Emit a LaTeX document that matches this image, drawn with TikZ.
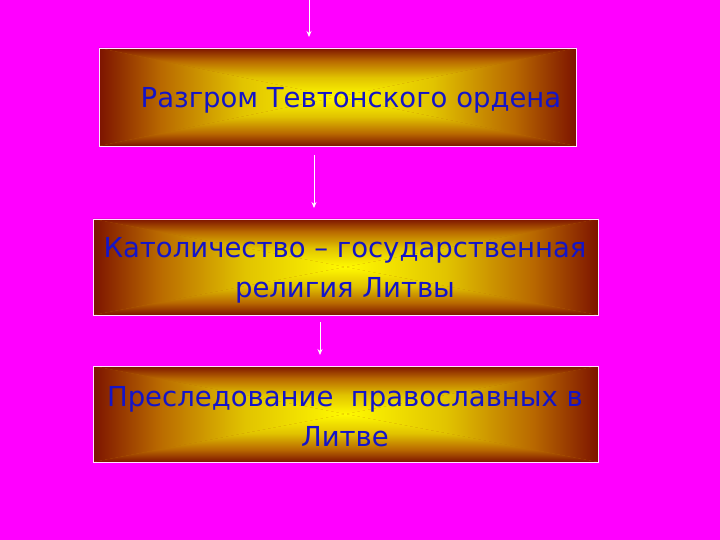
\documentclass[tikz,border=0pt]{standalone}
\usepackage{fontspec}
\setmainfont{DejaVu Sans}
\definecolor{bg}{RGB}{255,0,255}
\definecolor{brn}{RGB}{125,20,0}
\definecolor{ora}{RGB}{185,105,0}
\definecolor{gld}{RGB}{225,195,0}
\definecolor{yel}{RGB}{255,250,0}
\definecolor{txt}{RGB}{20,20,200}
\definecolor{rim}{RGB}{255,225,255}
\pgfdeclarehorizontalshading{rectgrad}{100bp}{color(0bp)=(brn); color(25bp)=(brn); color(38bp)=(ora); color(55bp)=(gld); color(75bp)=(yel); color(100bp)=(yel)}
\newcommand\gradbox[4]{%
  \pgfmathsetmacro\gbxc{(#1+#3)/2}\pgfmathsetmacro\gbyc{(#2+#4)/2}%
  \fill[ora] (#1,#2) rectangle (#3,#4);
  \shade[shading=rectgrad] (#1,#2) -- (#1,#4) -- (\gbxc,\gbyc) -- cycle;
  \shade[shading=rectgrad,shading angle=180] (#3,#2) -- (#3,#4) -- (\gbxc,\gbyc) -- cycle;
  \shade[shading=rectgrad,shading angle=-90] (#1,#2) -- (#3,#2) -- (\gbxc,\gbyc) -- cycle;
  \shade[shading=rectgrad,shading angle=90] (#1,#4) -- (#3,#4) -- (\gbxc,\gbyc) -- cycle;
}
\tikzset{
  boxframe/.style={draw=rim,line width=0.8pt,inner sep=0pt,fill=none},
  lbl/.style={text=txt,align=center,inner sep=0pt,font=\fontsize{27.5}{40}\selectfont},
  arr/.style={draw=white,line width=0.8pt,-{Stealth[length=6pt,width=5pt]}}
}
\usetikzlibrary{arrows.meta}
\begin{document}
\begin{tikzpicture}[x=1pt,y=-1pt]
\fill[bg] (0,0) rectangle (720,540);
\useasboundingbox (0,0) rectangle (720,540);
\gradbox{99}{48}{576}{146}
\gradbox{93}{219}{598}{315}
\gradbox{93}{366}{598}{462}
\node[boxframe,minimum width=477pt,minimum height=98pt] (b1) at (337.5,97) {};
\node[boxframe,minimum width=505pt,minimum height=96pt] (b2) at (345.5,267) {};
\node[boxframe,minimum width=505pt,minimum height=96pt] (b3) at (345.5,414) {};
\node[lbl] (t1) at (351,100) {Разгром Тевтонского ордена};
\node[lbl] (t2) at (345,270) {Католичество – государственная\\религия Литвы};
\node[lbl] (t3) at (345,417) {Преследование \ православных в\\Литве};
\coordinate (a1s) at (309,0);
\coordinate (a1e) at (309,37);
\coordinate (a2s) at (314,155);
\coordinate (a2e) at (314,208);
\coordinate (a3s) at (320,322);
\coordinate (a3e) at (320,355);
\draw[arr] (a1s) -- (a1e);
\draw[arr] (a2s) -- (a2e);
\draw[arr] (a3s) -- (a3e);
\end{tikzpicture}
\end{document}
